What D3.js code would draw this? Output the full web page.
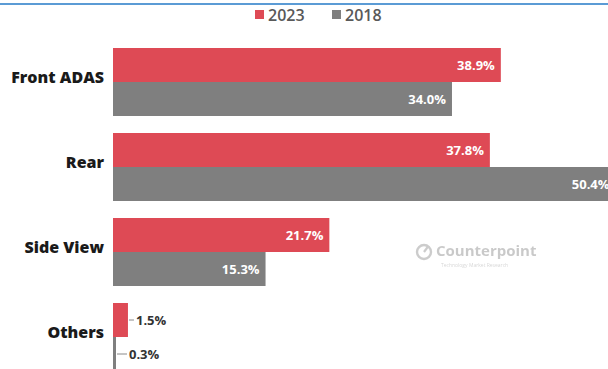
<!DOCTYPE html>
<html>
<head>
<meta charset="utf-8">
<script src="https://cdn.jsdelivr.net/npm/d3@7"></script>
<style>
  html, body { margin: 0; padding: 0; background: #fff; }
  svg { display: block; }
</style>
</head>
<body>
<svg id="chart" width="608" height="369"></svg>
<script>
// Camera module share by position
const categories = ["Front ADAS", "Rear", "Side View", "Others"];
const seriesNames = ["2023", "2018"];
const values2023 = [38.9, 37.8, 21.7, 1.5];
const values2018 = [34.0, 50.4, 15.3, 0.3];
const seriesColors = ["#de4a55", "#7f7f7f"];

const W = 608, H = 369;
const svg = d3.select("#chart");
const font = "'Open Sans', 'Noto Sans', sans-serif";

// top rule
svg.append("rect").attr("x", 0).attr("y", 3).attr("width", W).attr("height", 2).attr("fill", "#5b9bd5");

const x = d3.scaleLinear().domain([0, 50]).range([113, 611.5]);
const y = d3.scaleBand().domain(categories).range([48, 371]).paddingInner(0.2).paddingOuter(0);
const ySub = d3.scaleBand().domain(seriesNames).range([0, y.bandwidth()]);
const color = d3.scaleOrdinal().domain(seriesNames).range(seriesColors);

const rows = [];
categories.forEach((c, i) => {
  rows.push({ cat: c, series: "2023", v: values2023[i] });
  rows.push({ cat: c, series: "2018", v: values2018[i] });
});

// watermark
const wm = svg.append("g").attr("opacity", 0.5).style("filter", "blur(0.7px)");
wm.append("circle").attr("cx", 424).attr("cy", 252).attr("r", 7)
  .attr("fill", "none").attr("stroke", "#9a9a9a").attr("stroke-width", 2.4);
wm.append("line").attr("x1", 424).attr("y1", 252).attr("x2", 428).attr("y2", 246.5)
  .attr("stroke", "#9a9a9a").attr("stroke-width", 2.2);
wm.append("text").attr("x", 436).attr("y", 256).text("Counterpoint")
  .attr("font-family", font).attr("font-weight", 700).attr("font-size", 15).attr("fill", "#959595");
wm.append("text").attr("x", 441).attr("y", 267).text("Technology Market Research")
  .attr("font-family", font).attr("font-size", 5).attr("fill", "#b0b0b0");

// bars
const g = svg.append("g");
g.selectAll("rect.bar").data(rows).join("rect")
  .attr("class", "bar")
  .attr("x", x(0))
  .attr("y", d => y(d.cat) + ySub(d.series))
  .attr("width", d => x(d.v) - x(0))
  .attr("height", ySub.bandwidth())
  .attr("fill", d => color(d.series));

// value labels: inside long bars, outside with a leader for short ones
const fmt = v => v.toFixed(1) + "%";
rows.forEach(d => {
  const cy = y(d.cat) + ySub(d.series) + ySub.bandwidth() / 2;
  const w = x(d.v) - x(0);
  if (w > 40) {
    g.append("text").attr("x", x(d.v) - 6).attr("y", cy + 4.5)
      .attr("text-anchor", "end").attr("font-family", font).attr("font-weight", 700)
      .attr("font-size", 13).attr("fill", "#fff").text(fmt(d.v));
  } else {
    const lx = x(d.v) + 1;
    const len = d.series === "2018" ? 10 : 5;
    g.append("line").attr("x1", lx).attr("x2", lx + len).attr("y1", cy).attr("y2", cy)
      .attr("stroke", "#8a8a8a").attr("stroke-width", 1);
    g.append("text").attr("x", lx + len + 2).attr("y", cy + 4.5)
      .attr("font-family", font).attr("font-weight", 700)
      .attr("font-size", 13).attr("fill", "#333").text(fmt(d.v));
  }
});

// category labels
svg.append("g").selectAll("text").data(categories).join("text")
  .attr("x", 104)
  .attr("y", d => y(d) + y.bandwidth() / 2 + 1)
  .attr("text-anchor", "end")
  .attr("font-family", font).attr("font-weight", 800).attr("font-size", 16)
  .attr("fill", "#1a1a1a").text(d => d);

// legend
const lg = svg.append("g");
const legendX = [255, 332];
seriesNames.forEach((s, i) => {
  lg.append("rect").attr("x", legendX[i]).attr("y", 10).attr("width", 9).attr("height", 9).attr("fill", color(s));
  lg.append("text").attr("x", legendX[i] + 13).attr("y", 20.5)
    .attr("font-family", font).attr("font-weight", 600).attr("font-size", 16)
    .attr("fill", "#595959").text(s);
});
</script>
</body>
</html>
